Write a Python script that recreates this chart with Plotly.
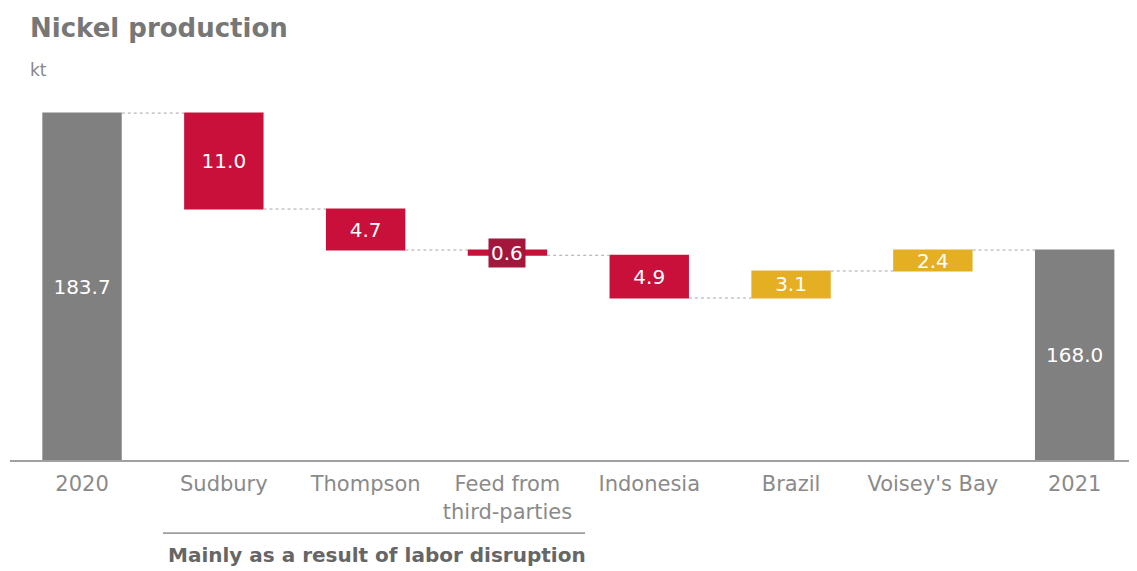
import plotly.graph_objects as go

categories = ["2020", "Sudbury", "Thompson", "Feed from<br>third-parties", "Indonesia", "Brazil", "Voisey's Bay", "2021"]
measures = ["absolute", "relative", "relative", "relative", "relative", "relative", "relative", "total"]
values = [183.7, -11.0, -4.7, -0.6, -4.9, 3.1, 2.4, 168.0]
labels = ["183.7", "11.0", "4.7", "0.6", "4.9", "3.1", "2.4", "168.0"]

AXIS_MIN = 143.93
AXIS_MAX = 185.2

GREY = "#808080"
RED = "#C8103A"
YELLOW = "#E5AF24"
DARK_RED = "#A3173D"
FONT = "DejaVu Sans, Arial, sans-serif"

# waterfall values measured from the axis floor so the clipped bars keep their labels centred
wf_values = []
for m, v in zip(measures, values):
    if m == "absolute":
        wf_values.append(v - AXIS_MIN)
    elif m == "total":
        wf_values.append(0)
    else:
        wf_values.append(v)

small_idx = 3
texts = [("" if i == small_idx else t) for i, t in enumerate(labels)]

x = list(range(len(categories)))

fig = go.Figure()
fig.add_trace(go.Waterfall(
    x=x,
    measure=measures,
    y=wf_values,
    base=AXIS_MIN,
    text=texts,
    textposition="inside",
    insidetextanchor="middle",
    constraintext="none",
    textfont=dict(color="white", size=20, family=FONT),
    width=0.56,
    decreasing=dict(marker=dict(color=RED)),
    increasing=dict(marker=dict(color=YELLOW)),
    totals=dict(marker=dict(color=GREY)),
    connector=dict(mode="between", line=dict(color="#a8a8a8", width=1, dash="dot")),
    hoverinfo="skip",
))

# label box for the tiny Feed bar
running = values[0]
for i in range(1, small_idx):
    running += values[i]
fig.add_annotation(
    x=small_idx, y=running + values[small_idx] / 2, xref="x", yref="y",
    text=labels[small_idx], showarrow=False,
    font=dict(color="white", size=20, family=FONT),
    bgcolor=DARK_RED, borderpad=2,
)

# title and unit
fig.add_annotation(x=0.016, y=1.2, xref="paper", yref="paper", xanchor="left", yanchor="middle",
                   text="<b>Nickel production</b>", showarrow=False,
                   font=dict(size=26, color="#777777", family=FONT))
fig.add_annotation(x=0.016, y=1.083, xref="paper", yref="paper", xanchor="left", yanchor="middle",
                   text="kt", showarrow=False,
                   font=dict(size=17, color="#888888", family=FONT))

# bracket note under the first three changes
fig.add_shape(type="line", xref="x", yref="paper", x0=0.571, x1=3.547, y0=-0.203, y1=-0.203,
              line=dict(color="#555555", width=1))
fig.add_annotation(x=2.08, y=-0.264, xref="x", yref="paper", xanchor="center", yanchor="middle",
                   text="<b>Mainly as a result of labor disruption</b>", showarrow=False,
                   font=dict(size=20, color="#666666", family=FONT))

fig.update_layout(
    width=1137, height=571,
    margin=dict(l=2, r=0, t=92, b=119),
    paper_bgcolor="white", plot_bgcolor="white",
    showlegend=False,
    font=dict(family=FONT),
    xaxis=dict(
        range=[-0.508, 7.496],
        tickmode="array", tickvals=x, ticktext=categories,
        tickfont=dict(size=21, color="#8a8a8a", family=FONT),
        ticklabelstandoff=4,
        showline=True, linecolor="#a0a0a0", linewidth=2,
        showgrid=False, zeroline=False, ticks="",
    ),
    yaxis=dict(range=[AXIS_MIN, AXIS_MAX], visible=False, showgrid=False, zeroline=False),
)

fig.write_html("out.html")
